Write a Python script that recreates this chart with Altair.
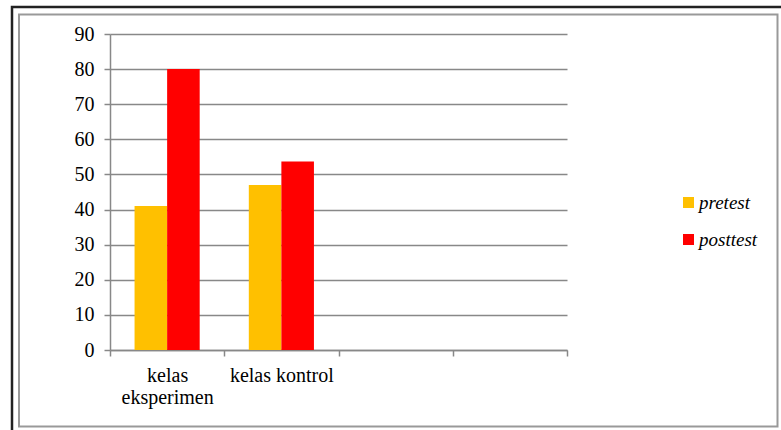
import altair as alt
import pandas as pd

categories = ["kelas eksperimen", "kelas kontrol", " ", "  "]
groups = ["kelas eksperimen", "kelas eksperimen", "kelas kontrol", "kelas kontrol"]
tests = ["pretest", "posttest", "pretest", "posttest"]
values = [41.0, 80.0, 47.0, 53.7]
series = ["pretest", "posttest"]
colors = ["#FFC000", "#FF0000"]
y_ticks = [0, 10, 20, 30, 40, 50, 60, 70, 80, 90]

df = pd.DataFrame({"kelas": groups, "test": tests, "nilai": values})

FONT = "Liberation Serif, Times New Roman, serif"

bars = alt.Chart(df).mark_bar().encode(
    x=alt.X(
        "kelas:N",
        sort=categories,
        scale=alt.Scale(domain=categories, paddingInner=0, paddingOuter=0),
        axis=alt.Axis(
            title=None,
            tickBand="extent",
            grid=False,
            labelAngle=0,
            labelFont=FONT,
            labelFontSize=20,
            labelColor="#000000",
            labelPadding=9,
            labelLineHeight=22,
            labelExpr="datum.label == 'kelas eksperimen' ? ['kelas', 'eksperimen'] : datum.label",
            domainColor="#888888",
            domainWidth=1.5,
            tickColor="#888888",
            tickWidth=1.5,
            tickSize=6,
        ),
    ),
    xOffset=alt.XOffset("test:N", scale=alt.Scale(domain=series, paddingInner=0, paddingOuter=0.754)),
    y=alt.Y(
        "nilai:Q",
        scale=alt.Scale(domain=[0, 90], nice=False),
        axis=alt.Axis(
            title=None,
            values=y_ticks,
            labelFont=FONT,
            labelFontSize=20,
            labelColor="#000000",
            labelPadding=10,
            gridColor="#888888",
            gridWidth=1.5,
            domainColor="#888888",
            domainWidth=1.5,
            tickColor="#888888",
            tickWidth=1.5,
            tickSize=6,
        ),
    ),
    color=alt.Color(
        "test:N",
        scale=alt.Scale(domain=series, range=colors),
        legend=alt.Legend(
            title=None,
            orient="none",
            legendX=569,
            legendY=159,
            symbolType="square",
            symbolSize=121,
            symbolStrokeWidth=0,
            labelFont=FONT,
            labelFontSize=19,
            labelFontStyle="italic",
            labelColor="#000000",
            labelOffset=1,
            rowPadding=17,
            padding=0,
        ),
    ),
)

frame_df = pd.DataFrame({"a": [0]})
outer = alt.Chart(frame_df).mark_rect(fill=None, stroke="#222222", strokeWidth=2.5).encode(
    x=alt.value(-98), x2=alt.value(700), y=alt.value(-27), y2=alt.value(430)
)
inner = alt.Chart(frame_df).mark_rect(fill=None, stroke="#999999", strokeWidth=2).encode(
    x=alt.value(-91), x2=alt.value(667.5), y=alt.value(-19.5), y2=alt.value(392.5)
)

chart = alt.layer(bars, inner, outer).properties(
    width=457,
    height=316,
    autosize=alt.AutoSizeParams(type="none"),
    padding={"left": 110, "top": 34, "right": 214, "bottom": 80},
    background="#FFFFFF",
).configure_view(stroke=None)

chart.save("out.html", embed_options={"renderer": "svg", "actions": False})
